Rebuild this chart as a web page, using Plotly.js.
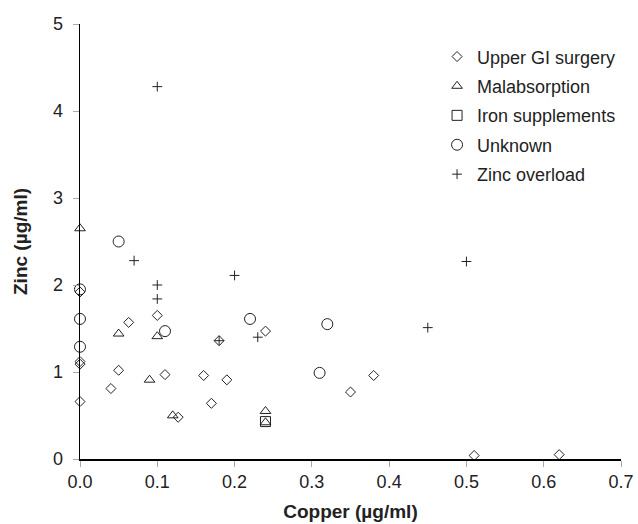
<!DOCTYPE html>
<html>
<head>
<meta charset="utf-8">
<script src="https://cdn.plot.ly/plotly-3.0.1.min.js"></script>
<style>html,body{margin:0;padding:0;background:#fff;}#chart{width:638px;height:524px;}</style>
</head>
<body>
<div id="chart"></div>
<script>
// Data
const upperGI_x = [0, 0, 0, 0, 0.04, 0.05, 0.063, 0.1, 0.11, 0.127, 0.16, 0.17, 0.19, 0.18, 0.24, 0.35, 0.38, 0.51, 0.62];
const upperGI_y = [1.92, 1.12, 1.09, 0.66, 0.81, 1.02, 1.57, 1.65, 0.97, 0.48, 0.96, 0.64, 0.91, 1.36, 1.47, 0.77, 0.96, 0.04, 0.05];

const malabs_x = [0, 0.05, 0.1, 0.09, 0.12, 0.24, 0.24];
const malabs_y = [2.65, 1.44, 1.41, 0.91, 0.50, 0.55, 0.42];

const iron_x = [0.24];
const iron_y = [0.43];

const unknown_x = [0.05, 0, 0, 0.22, 0.11, 0, 0.32, 0.31];
const unknown_y = [2.50, 1.95, 1.61, 1.61, 1.47, 1.29, 1.55, 0.99];

const zinc_x = [0.1, 0.07, 0.1, 0.1, 0.2, 0.23, 0.45, 0.5, 0.18];
const zinc_y = [4.28, 2.28, 2.00, 1.84, 2.11, 1.40, 1.51, 2.27, 1.36];

const seriesNames = ['Upper GI surgery', 'Malabsorption', 'Iron supplements', 'Unknown', 'Zinc overload'];

const xTickVals = [0, 0.1, 0.2, 0.3, 0.4, 0.5, 0.6, 0.7];
const yTickVals = [0, 1, 2, 3, 4, 5];

const ink = '#222222';
function mk(symbol, size) {
  return {symbol: symbol, size: size, color: ink, line: {color: ink, width: 1}};
}

const traces = [
  {x: upperGI_x, y: upperGI_y, name: seriesNames[0], legendgroup: 'a', marker: mk('diamond-open', 7.7)},
  {x: malabs_x, y: malabs_y, name: seriesNames[1], legendgroup: 'b', marker: mk('triangle-up-open', 9.3)},
  {x: iron_x, y: iron_y, name: seriesNames[2], legendgroup: 'c', marker: mk('square-open', 10)},
  {x: unknown_x, y: unknown_y, name: seriesNames[3], legendgroup: 'd', marker: mk('circle-open', 11)},
  {x: zinc_x, y: zinc_y, name: seriesNames[4], legendgroup: 'e', marker: mk('cross-thin-open', 7)}
].map(t => Object.assign({type: 'scatter', mode: 'markers', cliponaxis: false}, t));

const fontFam = 'Liberation Sans, Arial, sans-serif';

const layout = {
  width: 638, height: 524,
  margin: {l: 80, r: 17, t: 24, b: 65},
  paper_bgcolor: '#ffffff', plot_bgcolor: '#ffffff',
  font: {family: fontFam, size: 18, color: ink},
  showlegend: true,
  legend: {
    x: 0.66, y: 0.967, xanchor: 'left', yanchor: 'top',
    font: {family: fontFam, size: 18, color: ink},
    bgcolor: 'rgba(0,0,0,0)', borderwidth: 0,
    tracegroupgap: 3
  },
  xaxis: {
    range: [0, 0.7], tickvals: xTickVals, tickformat: '.1f',
    showgrid: false, zeroline: false,
    showline: true, linecolor: '#000', linewidth: 1.5,
    ticks: 'outside', ticklen: 6, tickcolor: '#aaaaaa', tickwidth: 1,
    tickfont: {family: fontFam, size: 18, color: ink},
    title: {text: 'Copper (µg/ml)', font: {family: fontFam, size: 19, color: ink, weight: 'bold'}, standoff: 13}
  },
  yaxis: {
    range: [0, 5], tickvals: yTickVals,
    showgrid: false, zeroline: false,
    showline: true, linecolor: '#000', linewidth: 1.5,
    ticks: 'outside', ticklen: 6, tickcolor: '#aaaaaa', tickwidth: 1,
    tickfont: {family: fontFam, size: 18, color: ink},
    ticklabelstandoff: 6,
    title: {text: 'Zinc (µg/ml)', font: {family: fontFam, size: 19, color: ink, weight: 'bold'}, standoff: 20}
  }
};

Plotly.newPlot('chart', traces, layout, {displayModeBar: false, staticPlot: true});
</script>
</body>
</html>
